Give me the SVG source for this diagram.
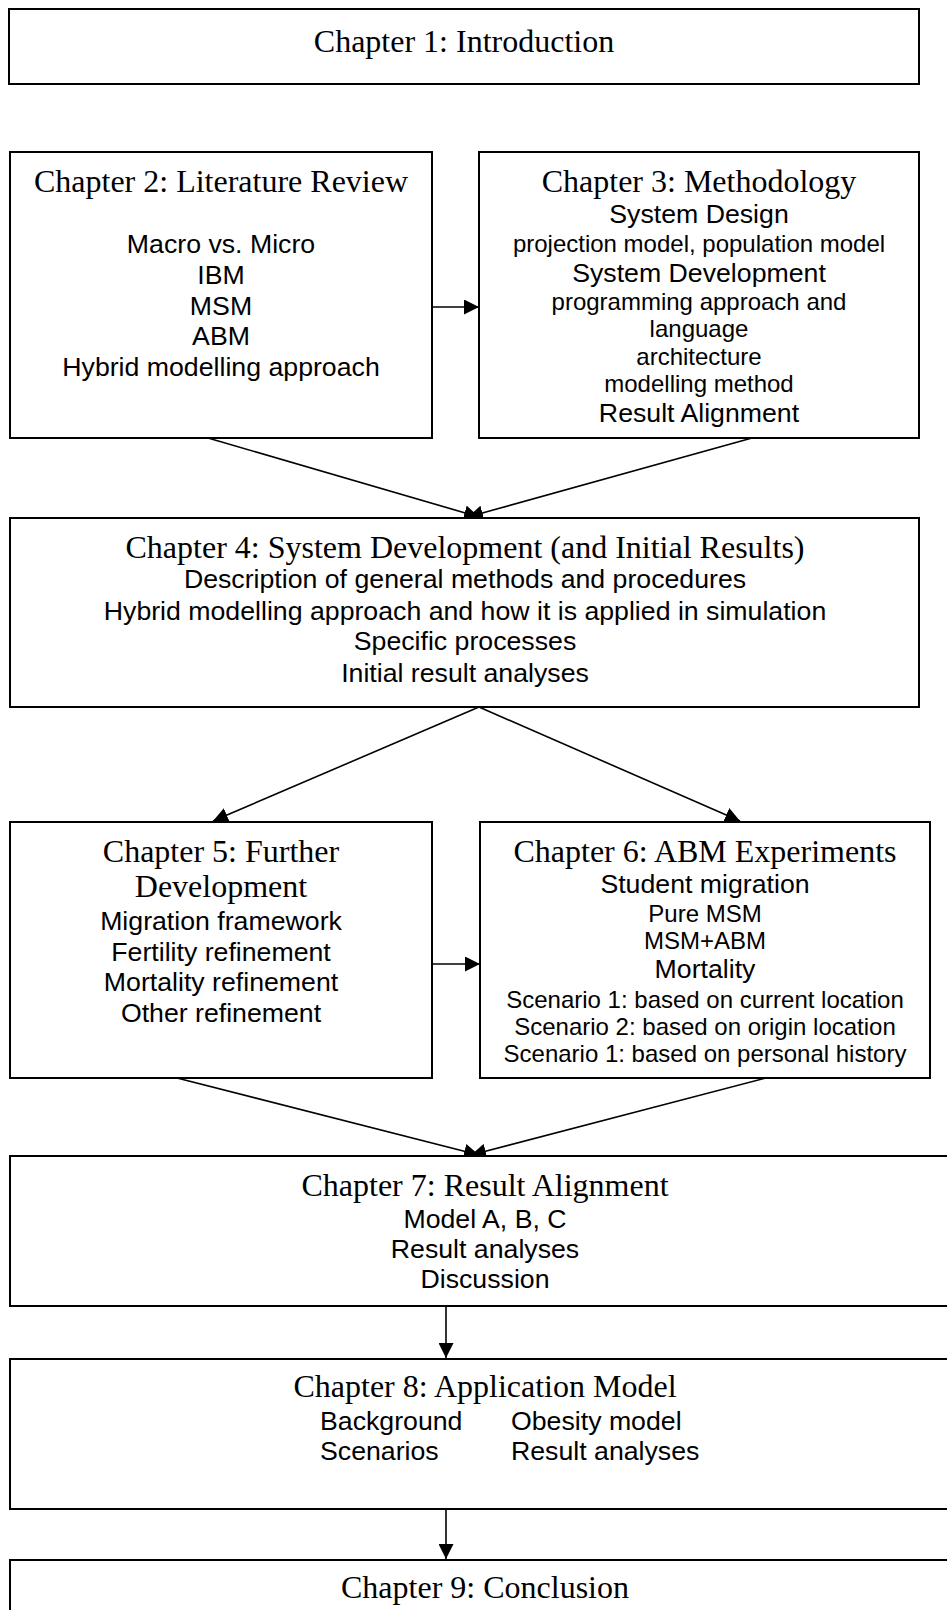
<svg xmlns="http://www.w3.org/2000/svg" width="947" height="1610" viewBox="0 0 947 1610">
  <style>
    .box { fill: #ffffff; stroke: #000000; stroke-width: 2; }
    .title { font-family: "Liberation Serif", "Times New Roman", serif; font-size: 32px; fill: #000000; text-anchor: middle; }
    .big { font-family: "Liberation Sans", Arial, sans-serif; font-size: 26.7px; fill: #000000; text-anchor: middle; }
    .small { font-family: "Liberation Sans", Arial, sans-serif; font-size: 24px; fill: #000000; text-anchor: middle; }
    .left { text-anchor: start; }
    .conn { stroke: #000000; stroke-width: 1.6; fill: none; marker-end: url(#arrow); }
  </style>
  <defs>
    <marker id="arrow" markerUnits="userSpaceOnUse" markerWidth="15" markerHeight="15" refX="15" refY="7.5" orient="auto">
      <path d="M0,0 L15,7.5 L0,15 z" fill="#000000"/>
    </marker>
  </defs>
  <rect x="0" y="0" width="947" height="1610" fill="#ffffff"/>

  <!-- connectors -->
  <g id="connectors">
    <line class="conn" x1="432" y1="307" x2="479" y2="307"/>
    <line class="conn" x1="208" y1="438" x2="479" y2="517"/>
    <line class="conn" x1="752" y1="438" x2="468" y2="517"/>
    <line class="conn" x1="479" y1="707" x2="213" y2="821"/>
    <line class="conn" x1="479" y1="707" x2="740" y2="821"/>
    <line class="conn" x1="432" y1="964" x2="480" y2="964"/>
    <line class="conn" x1="177" y1="1078" x2="479" y2="1155"/>
    <line class="conn" x1="766" y1="1078" x2="471" y2="1155"/>
    <line class="conn" x1="446" y1="1306" x2="446" y2="1358"/>
    <line class="conn" x1="446" y1="1509" x2="446" y2="1559"/>
  </g>

  <g id="ch1">
    <rect class="box" x="9" y="9" width="910" height="75"/>
    <text class="title" x="464" y="52">Chapter 1: Introduction</text>
  </g>

  <g id="ch2">
    <rect class="box" x="10" y="152" width="422" height="286"/>
    <text class="title" x="221" y="192">Chapter 2: Literature Review</text>
    <text class="big" x="221" y="253">Macro vs. Micro</text>
    <text class="big" x="221" y="284">IBM</text>
    <text class="big" x="221" y="315">MSM</text>
    <text class="big" x="221" y="345">ABM</text>
    <text class="big" x="221" y="376">Hybrid modelling approach</text>
  </g>

  <g id="ch3">
    <rect class="box" x="479" y="152" width="440" height="286"/>
    <text class="title" x="699" y="192">Chapter 3: Methodology</text>
    <text class="big" x="699" y="223">System Design</text>
    <text class="small" x="699" y="252">projection model, population model</text>
    <text class="big" x="699" y="282">System Development</text>
    <text class="small" x="699" y="310">programming approach and</text>
    <text class="small" x="699" y="337">language</text>
    <text class="small" x="699" y="365">architecture</text>
    <text class="small" x="699" y="392">modelling method</text>
    <text class="big" x="699" y="422">Result Alignment</text>
  </g>

  <g id="ch4">
    <rect class="box" x="10" y="518" width="909" height="189"/>
    <text class="title" x="465" y="558">Chapter 4: System Development (and Initial Results)</text>
    <text class="big" x="465" y="588">Description of general methods and procedures</text>
    <text class="big" x="465" y="620">Hybrid modelling approach and how it is applied in simulation</text>
    <text class="big" x="465" y="650">Specific processes</text>
    <text class="big" x="465" y="682">Initial result analyses</text>
  </g>

  <g id="ch5">
    <rect class="box" x="10" y="822" width="422" height="256"/>
    <text class="title" x="221" y="862">Chapter 5: Further</text>
    <text class="title" x="221" y="897">Development</text>
    <text class="big" x="221" y="930">Migration framework</text>
    <text class="big" x="221" y="961">Fertility refinement</text>
    <text class="big" x="221" y="991">Mortality refinement</text>
    <text class="big" x="221" y="1022">Other refinement</text>
  </g>

  <g id="ch6">
    <rect class="box" x="480" y="822" width="450" height="256"/>
    <text class="title" x="705" y="862">Chapter 6: ABM Experiments</text>
    <text class="big" x="705" y="893">Student migration</text>
    <text class="small" x="705" y="922">Pure MSM</text>
    <text class="small" x="705" y="949">MSM+ABM</text>
    <text class="big" x="705" y="978">Mortality</text>
    <text class="small" x="705" y="1008">Scenario 1: based on current location</text>
    <text class="small" x="705" y="1035">Scenario 2: based on origin location</text>
    <text class="small" x="705" y="1062">Scenario 1: based on personal history</text>
  </g>

  <g id="ch7">
    <rect class="box" x="10" y="1156" width="1000" height="150"/>
    <text class="title" x="485" y="1196">Chapter 7: Result Alignment</text>
    <text class="big" x="485" y="1228">Model A, B, C</text>
    <text class="big" x="485" y="1258">Result analyses</text>
    <text class="big" x="485" y="1288">Discussion</text>
  </g>

  <g id="ch8">
    <rect class="box" x="10" y="1359" width="1000" height="150"/>
    <text class="title" x="485" y="1397">Chapter 8: Application Model</text>
    <text class="big left" x="320" y="1430">Background</text>
    <text class="big left" x="511" y="1430">Obesity model</text>
    <text class="big left" x="320" y="1460">Scenarios</text>
    <text class="big left" x="511" y="1460">Result analyses</text>
  </g>

  <g id="ch9">
    <rect class="box" x="10" y="1560" width="1000" height="100"/>
    <text class="title" x="485" y="1598">Chapter 9: Conclusion</text>
  </g>
</svg>
